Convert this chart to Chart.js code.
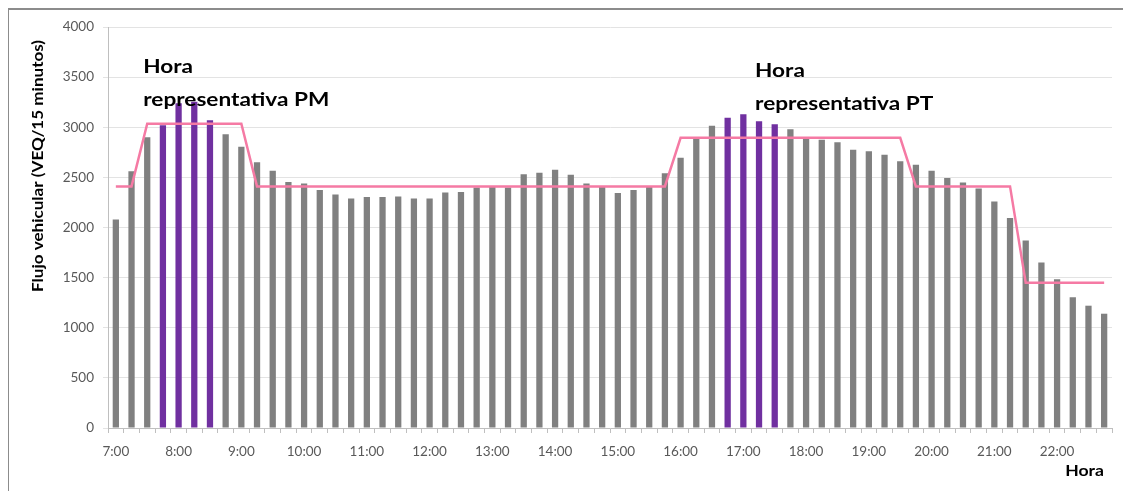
<!DOCTYPE html>
<html>
<head>
<meta charset="utf-8">
<script src="https://cdn.jsdelivr.net/npm/chart.js@4/dist/chart.umd.min.js"></script>
<style>
  html, body { margin: 0; padding: 0; background: #fff; }
  #wrap { position: relative; width: 1123px; height: 491px; }
  #frame { position: absolute; left: 8px; top: 8px; right: 0; bottom: 0;
           border-top: 2px solid #8c8c8c; border-left: 1px solid #8c8c8c; pointer-events: none; }
</style>
</head>
<body>
<div id="wrap">
  <canvas id="flujo-chart" width="1123" height="491"></canvas>
  <div id="frame"></div>
</div>
<script>
// Intervalos de 15 minutos, 7:00 - 22:45
const categorias = [
    '7:00', '7:15', '7:30', '7:45', '8:00', '8:15', '8:30', '8:45',
    '9:00', '9:15', '9:30', '9:45', '10:00', '10:15', '10:30', '10:45',
    '11:00', '11:15', '11:30', '11:45', '12:00', '12:15', '12:30', '12:45',
    '13:00', '13:15', '13:30', '13:45', '14:00', '14:15', '14:30', '14:45',
    '15:00', '15:15', '15:30', '15:45', '16:00', '16:15', '16:30', '16:45',
    '17:00', '17:15', '17:30', '17:45', '18:00', '18:15', '18:30', '18:45',
    '19:00', '19:15', '19:30', '19:45', '20:00', '20:15', '20:30', '20:45',
    '21:00', '21:15', '21:30', '21:45', '22:00', '22:15', '22:30', '22:45'
];

// Etiquetas visibles del eje X (una por hora)
const etiquetasHora = [
    '7:00', '8:00', '9:00', '10:00', '11:00', '12:00', '13:00', '14:00',
    '15:00', '16:00', '17:00', '18:00', '19:00', '20:00', '21:00', '22:00'
];

// Flujo vehicular (VEQ/15 minutos)
const flujo = [
    2080, 2560, 2900, 3020, 3240, 3255, 3070, 2930,
    2805, 2650, 2565, 2455, 2440, 2375, 2330, 2290,
    2305, 2305, 2310, 2290, 2290, 2350, 2355, 2400,
    2405, 2400, 2530, 2545, 2575, 2525, 2440, 2405,
    2345, 2375, 2405, 2540, 2695, 2885, 3015, 3095,
    3130, 3060, 3030, 2980, 2885, 2875, 2850, 2775,
    2760, 2725, 2660, 2625, 2565, 2495, 2450, 2390,
    2260, 2095, 1870, 1650, 1485, 1305, 1220, 1140
];

// Nivel representativo por periodo (linea rosa)
const nivelRepresentativo = [
    2410, 2410, 3035, 3035, 3035, 3035, 3035, 3035,
    3035, 2410, 2410, 2410, 2410, 2410, 2410, 2410,
    2410, 2410, 2410, 2410, 2410, 2410, 2410, 2410,
    2410, 2410, 2410, 2410, 2410, 2410, 2410, 2410,
    2410, 2410, 2410, 2410, 2895, 2895, 2895, 2895,
    2895, 2895, 2895, 2895, 2895, 2895, 2895, 2895,
    2895, 2895, 2895, 2410, 2410, 2410, 2410, 2410,
    2410, 2410, 1450, 1450, 1450, 1450, 1450, 1450
];

// Horas representativas (PM y PT)
const horasRepresentativas = ['7:45', '8:00', '8:15', '8:30', '16:45', '17:00', '17:15', '17:30'];

const anotaciones = [
    { lineas: ['Hora', 'representativa PM'], categoria: '7:30', valores: [3540, 3210] },
    { lineas: ['Hora', 'representativa PT'], categoria: '17:15', valores: [3500, 3170] }
];

const tituloY = 'Flujo vehicular (VEQ/15 minutos)';
const tituloX = 'Hora';

const GRIS = '#808080';
const MORADO = '#7030a0';
const ROSA = '#f57aa4';

const coloresBarras = categorias.map(c => horasRepresentativas.includes(c) ? MORADO : GRIS);

// Textos sobre el grafico (la imagen original esta algo estirada en horizontal)
const anotacionesPlugin = {
    id: 'anotaciones',
    afterDatasetsDraw(chart) {
        const ctx = chart.ctx;
        const area = chart.chartArea;
        const x = chart.scales.x;
        const y = chart.scales.y;
        ctx.save();
        ctx.font = 'bold 19px Lato';
        ctx.fillStyle = '#000';
        ctx.textAlign = 'left';
        ctx.textBaseline = 'alphabetic';
        anotaciones.forEach(a => {
            const px = x.getPixelForValue(categorias.indexOf(a.categoria)) - 4;
            a.lineas.forEach((t, i) => {
                ctx.save();
                ctx.translate(px, y.getPixelForValue(a.valores[i]));
                ctx.scale(1.19, 1);
                ctx.fillText(t, 0, 0);
                ctx.restore();
            });
        });

        // titulo del eje Y
        ctx.save();
        ctx.font = 'bold 15.5px Lato';
        ctx.translate(38, area.top + 13);
        ctx.rotate(-Math.PI / 2);
        ctx.scale(1.1, 1);
        ctx.textAlign = 'right';
        ctx.textBaseline = 'middle';
        ctx.fillText(tituloY, 0, 0);
        ctx.restore();

        // titulo del eje X
        ctx.save();
        ctx.font = 'bold 16px Lato';
        ctx.translate(area.right - 8, area.bottom + 43);
        ctx.scale(1.1, 1);
        ctx.textAlign = 'right';
        ctx.textBaseline = 'middle';
        ctx.fillText(tituloX, 0, 0);
        ctx.restore();
        ctx.restore();
    }
};

const ctx = document.getElementById('flujo-chart').getContext('2d');
new Chart(ctx, {
    data: {
        labels: categorias,
        datasets: [
            {
                type: 'line',
                data: nivelRepresentativo,
                borderColor: ROSA,
                borderWidth: 2.5,
                pointRadius: 0,
                tension: 0,
                fill: false,
                order: 0
            },
            {
                type: 'bar',
                data: flujo,
                backgroundColor: coloresBarras,
                barPercentage: 0.4,
                categoryPercentage: 1,
                order: 1
            }
        ]
    },
    options: {
        responsive: false,
        animation: false,
        layout: { padding: { left: 22, right: 11, top: 27, bottom: 0 } },
        plugins: {
            legend: { display: false },
            tooltip: { enabled: false }
        },
        scales: {
            x: {
                grid: { drawOnChartArea: false, tickLength: 5, color: '#bfbfbf', offset: true },
                border: { color: '#bfbfbf' },
                ticks: {
                    autoSkip: false,
                    maxRotation: 0,
                    padding: 11,
                    color: '#595959',
                    font: { family: 'Lato', size: 13.5 },
                    callback: (v, i) => etiquetasHora.includes(categorias[i]) ? categorias[i] : ''
                },
                afterFit: s => { s.height = 63; }
            },
            y: {
                min: 0,
                max: 4000,
                ticks: {
                    stepSize: 500,
                    padding: 9,
                    color: '#595959',
                    font: { family: 'Lato', size: 13.5 },
                    callback: v => String(v)
                },
                grid: { color: '#e3e3e3', tickLength: 5 },
                border: { color: '#bfbfbf' },
                afterFit: s => { s.width = 86; }
            }
        }
    },
    plugins: [anotacionesPlugin]
});
</script>
</body>
</html>
